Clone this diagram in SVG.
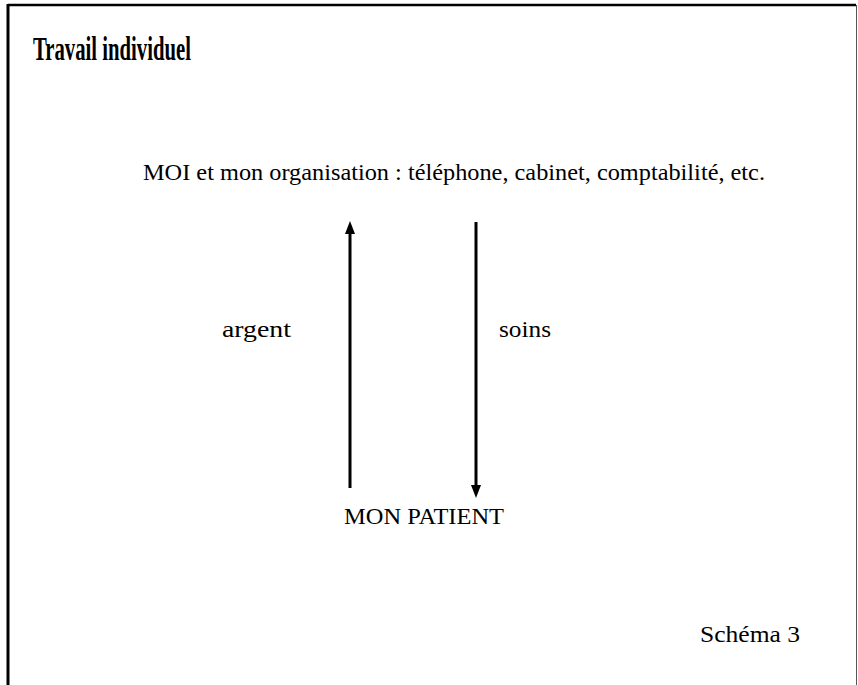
<svg xmlns="http://www.w3.org/2000/svg" width="858" height="685" viewBox="0 0 858 685">
<style>
text{font-family:'Liberation Serif','Times New Roman',Times,serif;fill:#000}
.l{font-size:24px}
.c{stroke:#000;stroke-width:3;fill:none}
</style>
<rect width="858" height="685" fill="#fff"/>
<g id="frame">
<line x1="8" y1="5" x2="856" y2="5" stroke="#000" stroke-width="2.5"/>
<line x1="8" y1="4" x2="8" y2="685" stroke="#000" stroke-width="3"/>
<line x1="856.5" y1="5" x2="856.5" y2="685" stroke="#555" stroke-width="1"/>
</g>
<g id="title"><text x="33" y="60" font-size="33" font-weight="bold" textLength="158" lengthAdjust="spacingAndGlyphs">Travail individuel</text></g>
<g id="moi"><text class="l" x="143" y="180" textLength="622" lengthAdjust="spacingAndGlyphs">MOI et mon organisation : téléphone, cabinet, comptabilité, etc.</text></g>
<g id="patient"><text class="l" x="344" y="524" textLength="160" lengthAdjust="spacingAndGlyphs">MON PATIENT</text></g>
<g id="connectors">
<line class="c" x1="350" y1="488" x2="350" y2="234"/>
<path d="M345,234 L350,221 L355,234 Z" fill="#000"/>
<line class="c" x1="476" y1="222" x2="476" y2="486"/>
<path d="M471,485 L476,498 L481,485 Z" fill="#000"/>
<text class="l" x="222" y="337" textLength="69" lengthAdjust="spacingAndGlyphs">argent</text>
<text class="l" x="499" y="337" textLength="52" lengthAdjust="spacingAndGlyphs">soins</text>
</g>
<g id="schema"><text class="l" x="700" y="642" textLength="100" lengthAdjust="spacingAndGlyphs">Schéma 3</text></g>
</svg>
